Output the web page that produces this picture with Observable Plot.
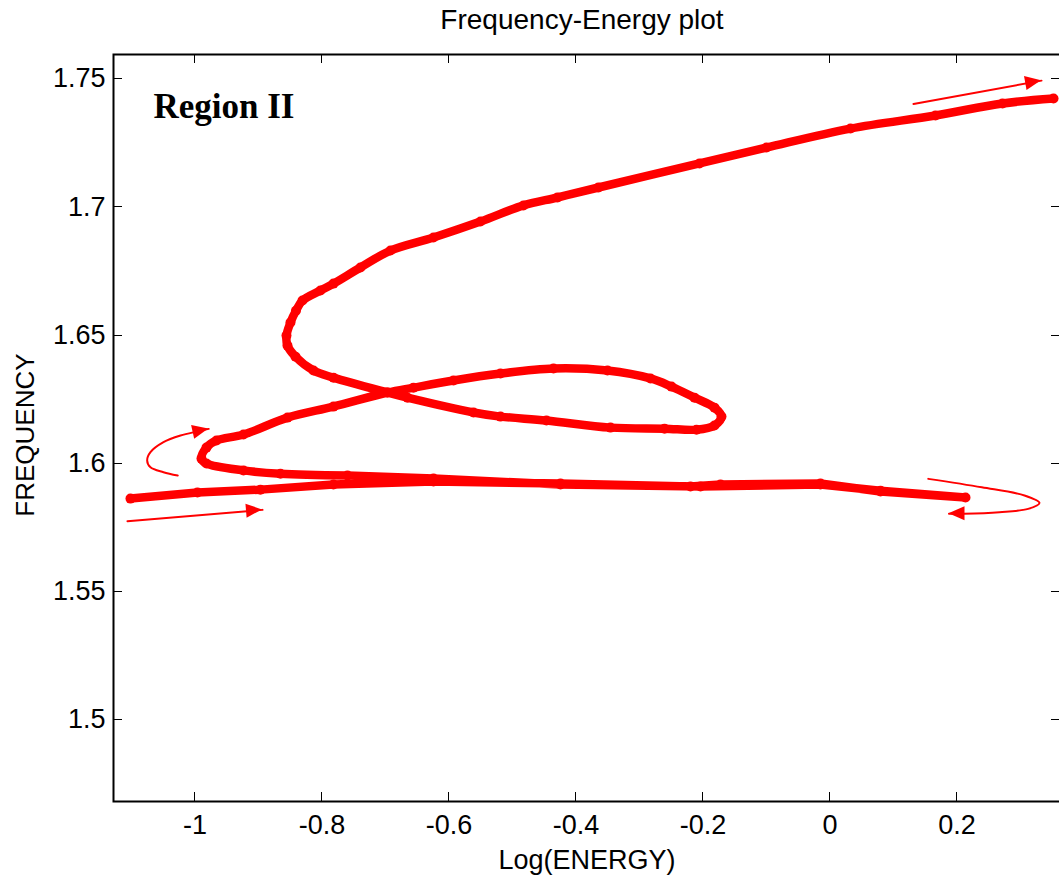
<!DOCTYPE html>
<html><head><meta charset="utf-8">
<script src="https://cdn.jsdelivr.net/npm/d3@7"></script>
<script src="https://cdn.jsdelivr.net/npm/@observablehq/plot@0.6"></script>
<style>
html,body{margin:0;padding:0;background:#fff;overflow:hidden;}
#wrap{width:1059px;height:886px;overflow:hidden;position:relative;background:#fff;}
#title{position:absolute;left:582px;top:6px;transform:translateX(-50%);font-family:"Liberation Sans",Arial,sans-serif;font-size:28px;line-height:28px;white-space:nowrap;color:#000;}
#chart{position:absolute;left:0;top:40px;}
#chart svg{max-width:none !important;}
</style></head><body>
<div id="wrap"><div id="title">Frequency-Energy plot</div><div id="chart"></div></div>
<script>
// Path of the response curve (Log(ENERGY), FREQUENCY), in drawing order
const logEnergy = [
  -1.1016, -0.9961, -0.8969, -0.7819, -0.6244, -0.4244, -0.2197, -0.1724, -0.0150, 0.0795, 0.2134,
  0.0795, -0.0150, -0.2039, -0.4244, -0.6244, -0.7598, -0.8654, -0.9236, -0.9819, -0.9898,
  -0.9819, -0.9661, -0.9236, -0.8543, -0.7819, -0.6969, -0.6559, -0.5929, -0.5189, -0.4354,
  -0.3504, -0.2827, -0.2496, -0.2134, -0.1819, -0.1709, -0.1819, -0.2102, -0.2606, -0.3457,
  -0.4465, -0.5189, -0.5614, -0.6654, -0.6969, -0.7819, -0.8134, -0.8417, -0.8543, -0.8559,
  -0.8496, -0.8410, -0.8307, -0.8024, -0.7819, -0.7394, -0.6921, -0.6244, -0.5504, -0.4827, -0.4291,
  -0.3646, -0.2055, -0.1000, 0.0323, 0.1661, 0.2717, 0.3520
];
const frequency = [
  1.5862, 1.5886, 1.5897, 1.5917, 1.5929, 1.5921, 1.5909, 1.5917, 1.5921, 1.5890, 1.5866,
  1.5893, 1.5917, 1.5909, 1.5917, 1.5940, 1.5952, 1.5959, 1.5972, 1.5999, 1.6018,
  1.6061, 1.6089, 1.6112, 1.6178, 1.6221, 1.6276, 1.6295, 1.6323, 1.6350, 1.6370,
  1.6362, 1.6331, 1.6299, 1.6256, 1.6217, 1.6182, 1.6147, 1.6131, 1.6135, 1.6139,
  1.6167, 1.6182, 1.6198, 1.6256, 1.6276, 1.6334, 1.6362, 1.6416, 1.6459, 1.6498,
  1.6549, 1.6595, 1.6635, 1.6674, 1.6701, 1.6764, 1.6830, 1.6881, 1.6943, 1.7006, 1.7037,
  1.7076, 1.7170, 1.7232, 1.7306, 1.7357, 1.7404, 1.7423
];
// the nearly straight low-frequency sweep (first points) is drawn with straight segments
const straightCount = 17;

// Axis ticks and labels
const xTicks = [-1, -0.8, -0.6, -0.4, -0.2, 0, 0.2];
const xTickLabels = ["-1", "-0.8", "-0.6", "-0.4", "-0.2", "0", "0.2"];
const yTicks = [1.5, 1.55, 1.6, 1.65, 1.7, 1.75];
const yTickLabels = ["1.5", "1.55", "1.6", "1.65", "1.7", "1.75"];
const xDomain = [-1.1283, 0.363];
const yDomain = [1.468, 1.7595];

// Direction arrows (annotation paths, each ending at the arrow tip)
const arrowTopRight = [[0.1315, 1.7402], [0.3331, 1.7493]];
const arrowBottomLeft = [[-1.1063, 1.5774], [-0.8937, 1.5818]];
const arrowLeftTurn = [[-1.0271, 1.5952], [-1.0496, 1.5965], [-1.0701, 1.5984], [-1.0753, 1.6011],
  [-1.0701, 1.6043], [-1.0496, 1.6082], [-1.0228, 1.6108], [-0.9965, 1.6124], [-0.9783, 1.6134]];
const arrowRightTurn = [[0.1548, 1.5939], [0.2391, 1.5906], [0.3063, 1.5874], [0.3299, 1.5845],
  [0.3120, 1.5822], [0.2669, 1.5809], [0.2110, 1.5803], [0.1874, 1.5803]];
const arrows = [arrowTopRight, arrowBottomLeft, arrowLeftTurn, arrowRightTurn];

const regionLabel = ["Region II"];

const pathData = logEnergy.map((e, i) => ({energy: e, freq: frequency[i]}));

function decorations(index, scales, values, dim) {
  const {x, y} = scales;
  const g = d3.create("svg:g");
  const L = dim.marginLeft, R = dim.width - dim.marginRight;
  const T = dim.marginTop, B = dim.height - dim.marginBottom;
  const tl = 9;
  for (const t of xTicks) {
    const px = Math.round(x(t)) + 0.5;
    g.append("line").attr("x1", px).attr("x2", px).attr("y1", B).attr("y2", B - tl).attr("stroke", "#000").attr("stroke-width", 1);
    g.append("line").attr("x1", px).attr("x2", px).attr("y1", T).attr("y2", T + tl).attr("stroke", "#000").attr("stroke-width", 1);
  }
  for (const t of yTicks) {
    const py = Math.round(y(t)) + 0.5;
    g.append("line").attr("x1", L).attr("x2", L + tl).attr("y1", py).attr("y2", py).attr("stroke", "#000").attr("stroke-width", 1);
    g.append("line").attr("x1", R).attr("x2", R - tl).attr("y1", py).attr("y2", py).attr("stroke", "#000").attr("stroke-width", 1);
  }
  // filled arrowheads
  for (const a of arrows) {
    const [x0, y0] = a[a.length - 2], [x1, y1] = a[a.length - 1];
    const ax = x(x0), ay = y(y0), bx = x(x1), by = y(y1);
    const dx = bx - ax, dy = by - ay, len = Math.hypot(dx, dy);
    const ux = dx / len, uy = dy / len, nx = -uy, ny = ux;
    const hl = 16, hw = 7;
    const p = [[bx, by], [bx - hl * ux + hw * nx, by - hl * uy + hw * ny], [bx - hl * ux - hw * nx, by - hl * uy - hw * ny]];
    g.append("path").attr("d", "M" + p.map(q => q.join(",")).join("L") + "Z").attr("fill", "#ff0000");
  }
  return g.node();
}

const arrowLine = (pts, curve) => Plot.line(pts, {x: d => d[0], y: d => d[1], stroke: "#ff0000", strokeWidth: 2, curve});
const pathStyle = {x: "energy", y: "freq", stroke: "#ff0000", strokeWidth: 8.5, strokeLinejoin: "round", strokeLinecap: "round"};

const chart = Plot.plot({
  width: 1062,
  height: 846,
  marginTop: 14,
  marginBottom: 85,
  marginLeft: 113,
  marginRight: 2,
  style: {fontFamily: "'Liberation Sans', Arial, sans-serif", fontSize: "26px", color: "#000", background: "#fff"},
  x: {domain: xDomain},
  y: {domain: yDomain},
  marks: [
    Plot.line(pathData.slice(0, straightCount), {...pathStyle, curve: "linear"}),
    Plot.line(pathData.slice(straightCount - 1), {...pathStyle, curve: "catmull-rom"}),
    Plot.dot(pathData, {x: "energy", y: "freq", r: 5, fill: "#ff0000"}),
    arrowLine(arrowTopRight, "linear"),
    arrowLine(arrowBottomLeft, "linear"),
    arrowLine(arrowLeftTurn, "catmull-rom"),
    arrowLine(arrowRightTurn, "catmull-rom"),
    Plot.axisX({anchor: "bottom", ticks: xTicks, tickFormat: d => xTickLabels[xTicks.indexOf(d)], tickSize: 0, tickPadding: 13, label: null, fontSize: 27}),
    Plot.axisY({anchor: "left", ticks: yTicks, tickFormat: d => yTickLabels[yTicks.indexOf(d)], tickSize: 0, tickPadding: 8, label: null, fontSize: 27}),
    Plot.text(["Log(ENERGY)"], {frameAnchor: "bottom", text: d => d, dy: 59, lineAnchor: "middle", textAnchor: "middle", fontSize: 27}),
    Plot.text(["FREQUENCY"], {frameAnchor: "left", text: d => d, rotate: -90, dx: -88, dy: 7, lineAnchor: "middle", textAnchor: "middle", fontSize: 26}),
    Plot.text(regionLabel, {frameAnchor: "top-left", text: d => d, textAnchor: "start", dx: 40, dy: 52, lineAnchor: "middle", fontSize: 35, fontWeight: "bold", fontFamily: "'Liberation Serif', 'Times New Roman', serif"}),
    decorations,
    Plot.frame({stroke: "#000", strokeWidth: 2})
  ]
});
document.getElementById("chart").appendChild(chart);
</script>
</body></html>
